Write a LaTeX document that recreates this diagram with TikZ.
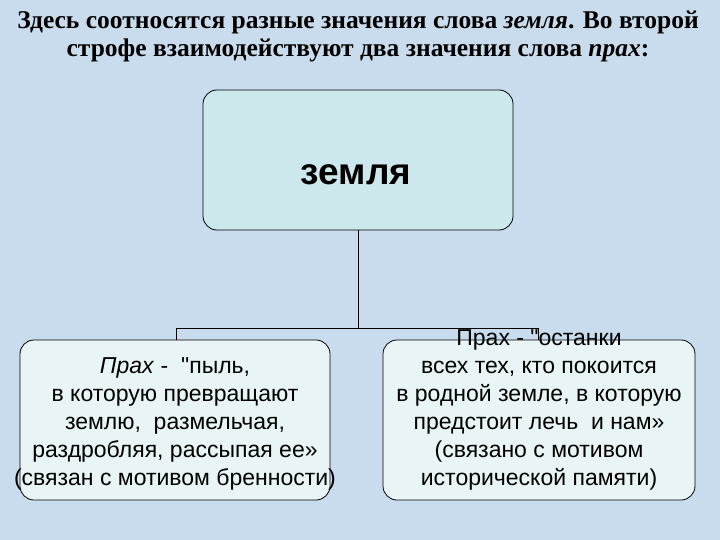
\documentclass[tikz,border=0pt]{standalone}
\usepackage{fontspec}
\setmainfont{Liberation Serif}
\setsansfont{Liberation Sans}
\begin{document}
\begin{tikzpicture}[x=1pt,y=-1pt,
  box/.style={draw=black,line width=0.8pt,rounded corners=14pt},
  txt/.style={font=\sffamily\fontsize{23}{28}\selectfont,align=center,inner sep=0}]
\fill[fill={rgb,255:red,200;green,220;blue,238}] (0,0) rectangle (720,540);
\useasboundingbox (0,0) rectangle (720,540);
\node[font=\bfseries\fontsize{25.5}{28}\selectfont,align=center] (title) at (358,36)
 {Здесь соотносятся разные значения слова \textit{земля}. Во второй\\строфе взаимодействуют два значения слова \textit{прах}:};
\node[box,fill={rgb,255:red,204;green,232;blue,236},minimum width=310pt,minimum height=140pt] (top) at (358,160) {};
\node[font=\sffamily\bfseries\fontsize{37}{40}\selectfont] at (356,175) {земля};
\node[box,fill={rgb,255:red,232;green,244;blue,246},minimum width=310pt,minimum height=160pt] (L) at (175,420) {};
\node[box,fill={rgb,255:red,232;green,244;blue,246},minimum width=312pt,minimum height=160pt] (R) at (539,420) {};
\coordinate (j) at (358,328);
\draw[line width=0.8pt] (top.south) -- (j);
\draw[line width=0.8pt] (176,340) -- (176,328) -- (538,328) -- (538,340);
\node[txt] at (175,424) {\textit{Прах} - \ \textquotedbl пыль,\\в которую превращают\\землю, \ размельчая,\\раздробляя, рассыпая ее»\\(связан с мотивом бренности)};
\node[txt] at (539,410) {Прах - \textquotedbl останки\\всех тех, кто покоится\\в родной земле, в которую\\предстоит лечь \ и нам»\\(связано с мотивом\\исторической памяти)};
\end{tikzpicture}
\end{document}
